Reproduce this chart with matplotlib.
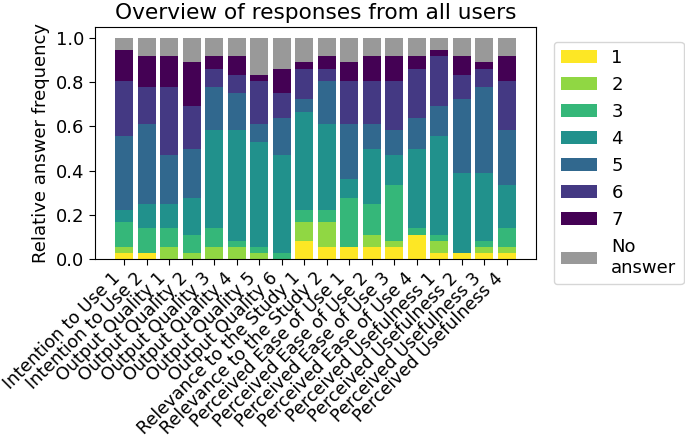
import matplotlib
matplotlib.use("Agg")
import matplotlib.pyplot as plt
import numpy as np

questions = ["Intention to Use 1", "Intention to Use 2",
             "Output Quality 1", "Output Quality 2", "Output Quality 3",
             "Output Quality 4", "Output Quality 5", "Output Quality 6",
             "Relevance to the Study 1", "Relevance to the Study 2",
             "Perceived Ease of Use 1", "Perceived Ease of Use 2",
             "Perceived Ease of Use 3", "Perceived Ease of Use 4",
             "Perceived Usefulness 1", "Perceived Usefulness 2",
             "Perceived Usefulness 3", "Perceived Usefulness 4"]
answers = ["1", "2", "3", "4", "5", "6", "7", "No\nanswer"]

# answer counts per question (36 respondents), rows = answer 1..7, no answer
counts = np.array([
    [1, 1, 0, 0, 0, 0, 0, 0, 3, 2, 2, 2, 2, 4, 1, 1, 1, 1],
    [1, 0, 2, 1, 2, 2, 1, 0, 3, 4, 0, 2, 1, 0, 2, 0, 1, 1],
    [4, 4, 3, 3, 3, 1, 1, 1, 2, 2, 8, 5, 9, 1, 1, 0, 1, 3],
    [2, 4, 4, 6, 16, 18, 17, 16, 16, 14, 3, 9, 5, 13, 16, 13, 11, 7],
    [12, 13, 8, 8, 7, 6, 3, 6, 2, 7, 9, 4, 4, 5, 5, 12, 14, 9],
    [9, 6, 11, 7, 3, 3, 7, 4, 5, 2, 7, 7, 8, 8, 8, 4, 3, 8],
    [5, 5, 5, 7, 2, 3, 1, 4, 1, 2, 3, 4, 4, 2, 1, 3, 1, 4],
    [2, 3, 3, 4, 3, 3, 6, 5, 4, 3, 4, 3, 3, 3, 2, 3, 4, 3],
])
freq = counts / counts.sum(axis=0)

colors = list(plt.cm.viridis(np.linspace(0, 1, 7))[::-1]) + ["#999999"]

plt.rcParams["font.size"] = 13
plt.rcParams["xtick.major.size"] = 4.5
plt.rcParams["ytick.major.size"] = 4.5
fig, ax = plt.subplots(figsize=(6.85, 4.4), dpi=100)
x = np.arange(len(questions))
bottom = np.zeros(len(questions))
for i, lab in enumerate(answers):
    ax.bar(x, freq[i], 0.8, bottom=bottom, color=colors[i], label=lab)
    bottom += freq[i]

ax.set_xticks(x)
ax.set_xticklabels(questions, rotation=45, ha="right", fontsize=12.6)
ax.tick_params(axis="x", pad=2.5)
ax.set_ylabel("Relative answer frequency")
ax.set_title("Overview of responses from all users")
ax.legend(loc="upper left", bbox_to_anchor=(1.02, 0.975))
fig.subplots_adjust(left=0.139, right=0.782, top=0.939, bottom=0.411)
fig.savefig("out.png")
